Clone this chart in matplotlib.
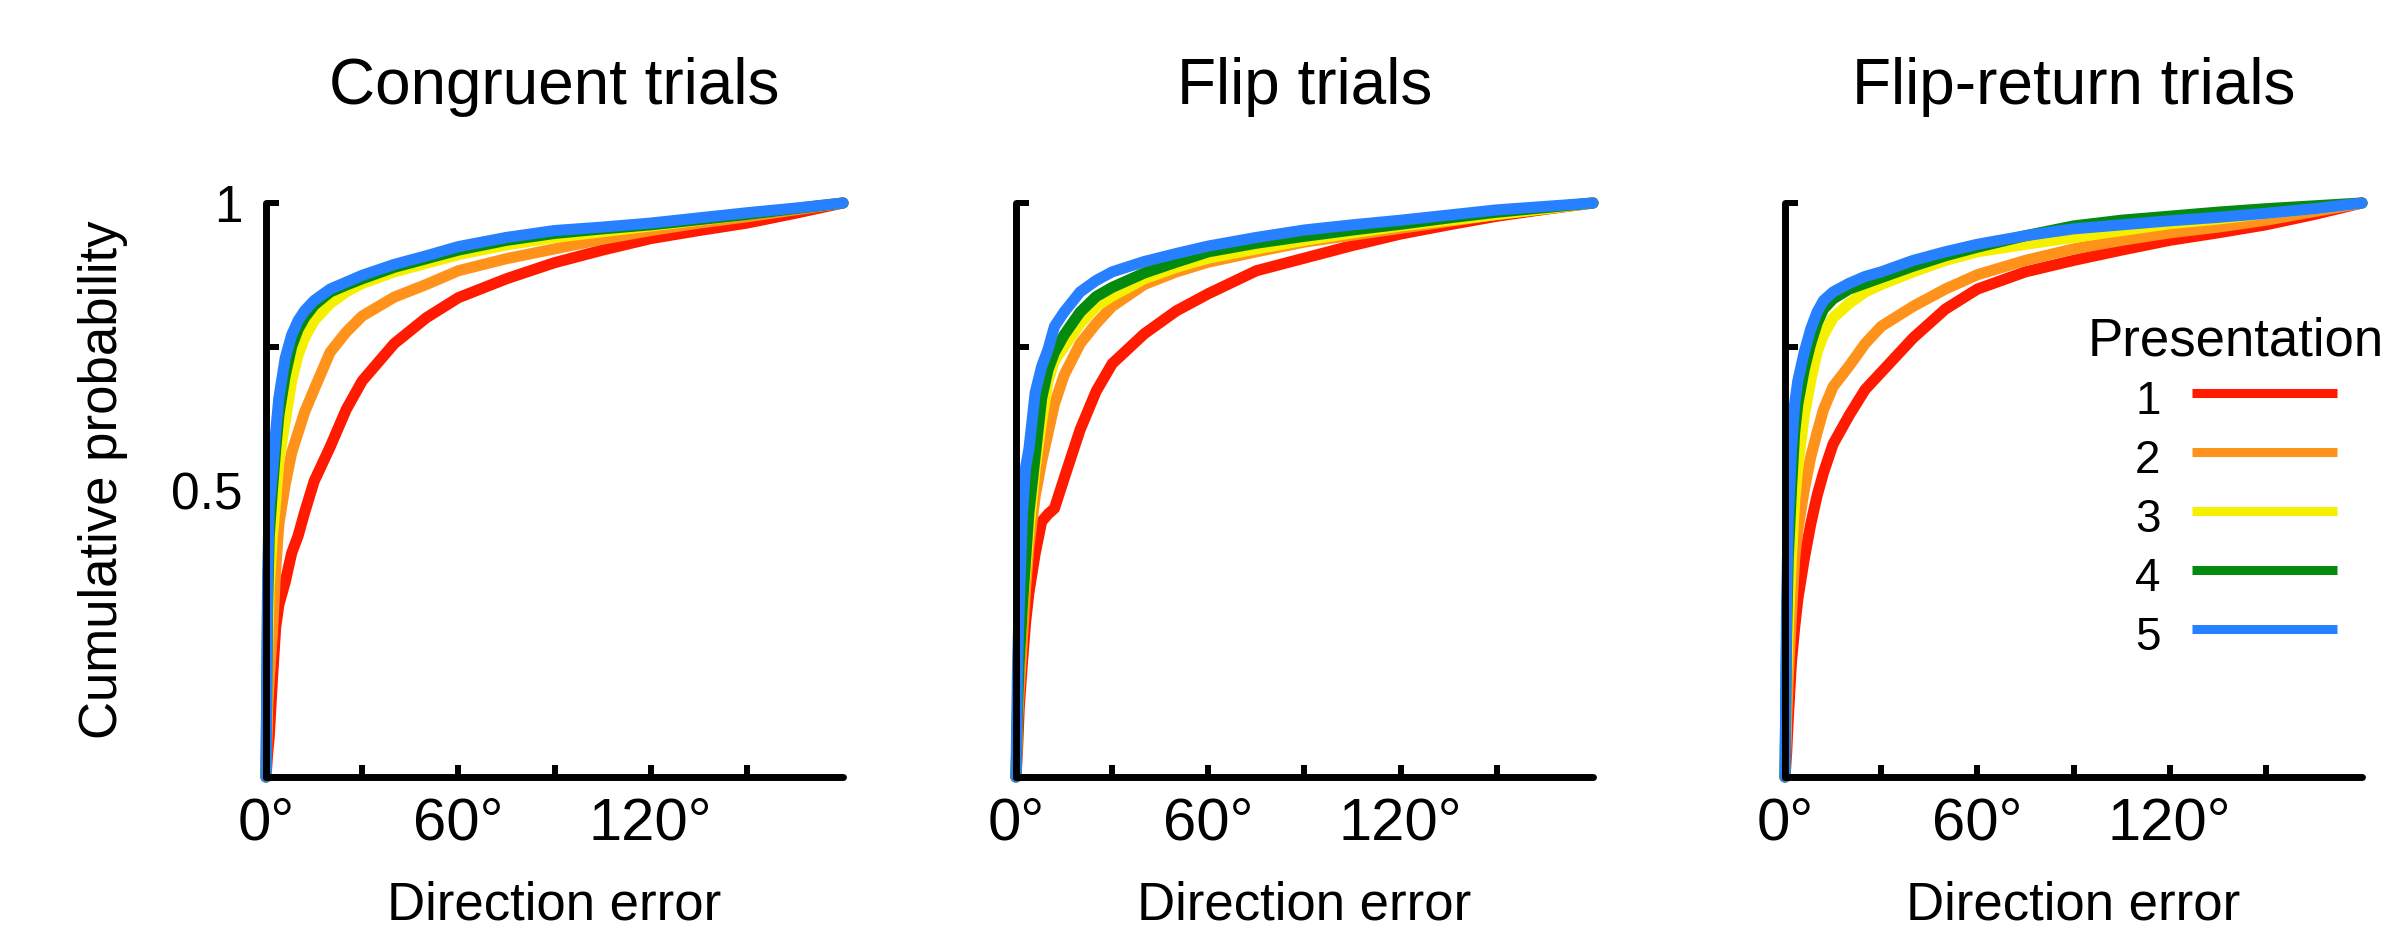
import matplotlib
matplotlib.use("Agg")
import matplotlib.pyplot as plt
import matplotlib.transforms as mtransforms
from matplotlib.lines import Line2D

plt.rcParams['font.family'] = ['Liberation Sans', 'DejaVu Sans']

# direction error grid (degrees) shared by all curves
x_deg = [0, 0.5, 1, 2, 3, 4, 6, 8, 10, 12, 15, 20, 25, 30, 40, 50, 60, 75, 90, 105, 120, 135, 150, 165, 180]

presentations = ['1', '2', '3', '4', '5']
colors = ['#ff1a00', '#ff921a', '#f5f000', '#058a10', '#2680ff']
titles = ['Congruent trials', 'Flip trials', 'Flip-return trials']

# cumulative probability
congruent_1 = [0, 0.04, 0.07, 0.17, 0.26, 0.30, 0.34, 0.39, 0.42, 0.46, 0.515, 0.575, 0.64, 0.69, 0.755, 0.80, 0.835, 0.868, 0.896, 0.918, 0.938, 0.952, 0.965, 0.982, 1.0]
congruent_2 = [0, 0.12, 0.17, 0.25, 0.36, 0.44, 0.51, 0.565, 0.60, 0.635, 0.675, 0.74, 0.775, 0.803, 0.836, 0.858, 0.882, 0.903, 0.92, 0.937, 0.952, 0.965, 0.976, 0.988, 1.0]
congruent_3 = [0, 0.22, 0.33, 0.42, 0.48, 0.55, 0.62, 0.69, 0.735, 0.765, 0.795, 0.825, 0.845, 0.86, 0.88, 0.895, 0.91, 0.927, 0.94, 0.95, 0.96, 0.97, 0.98, 0.99, 1.0]
congruent_4 = [0, 0.30, 0.42, 0.50, 0.57, 0.63, 0.70, 0.75, 0.78, 0.80, 0.822, 0.845, 0.857, 0.868, 0.888, 0.903, 0.918, 0.935, 0.947, 0.955, 0.962, 0.971, 0.98, 0.99, 1.0]
congruent_5 = [0, 0.35, 0.47, 0.53, 0.60, 0.66, 0.73, 0.77, 0.795, 0.812, 0.83, 0.85, 0.862, 0.874, 0.893, 0.908, 0.924, 0.94, 0.952, 0.958, 0.965, 0.974, 0.983, 0.991, 1.0]

flip_1 = [0, 0.05, 0.12, 0.20, 0.27, 0.32, 0.39, 0.445, 0.458, 0.468, 0.52, 0.605, 0.672, 0.72, 0.772, 0.812, 0.842, 0.882, 0.904, 0.926, 0.946, 0.962, 0.977, 0.989, 1.0]
flip_2 = [0, 0.10, 0.15, 0.24, 0.33, 0.40, 0.49, 0.55, 0.60, 0.65, 0.70, 0.755, 0.79, 0.82, 0.858, 0.88, 0.897, 0.915, 0.932, 0.944, 0.956, 0.968, 0.98, 0.99, 1.0]
flip_3 = [0, 0.12, 0.20, 0.30, 0.36, 0.43, 0.54, 0.62, 0.69, 0.725, 0.75, 0.79, 0.82, 0.838, 0.868, 0.888, 0.904, 0.92, 0.935, 0.948, 0.96, 0.97, 0.98, 0.99, 1.0]
flip_4 = [0, 0.12, 0.20, 0.30, 0.38, 0.46, 0.56, 0.66, 0.71, 0.74, 0.77, 0.81, 0.837, 0.853, 0.878, 0.897, 0.915, 0.93, 0.942, 0.953, 0.963, 0.974, 0.984, 0.992, 1.0]
flip_5 = [0, 0.20, 0.30, 0.46, 0.54, 0.57, 0.67, 0.715, 0.745, 0.785, 0.81, 0.845, 0.865, 0.88, 0.898, 0.912, 0.925, 0.94, 0.953, 0.962, 0.97, 0.979, 0.988, 0.994, 1.0]

flipret_1 = [0, 0.04, 0.10, 0.20, 0.26, 0.31, 0.38, 0.44, 0.49, 0.53, 0.58, 0.63, 0.675, 0.705, 0.765, 0.815, 0.85, 0.88, 0.90, 0.918, 0.935, 0.948, 0.962, 0.98, 1.0]
flipret_2 = [0, 0.10, 0.17, 0.28, 0.38, 0.43, 0.50, 0.557, 0.60, 0.64, 0.68, 0.716, 0.755, 0.785, 0.82, 0.85, 0.875, 0.90, 0.92, 0.935, 0.948, 0.958, 0.97, 0.985, 1.0]
flipret_3 = [0, 0.17, 0.26, 0.38, 0.48, 0.54, 0.63, 0.69, 0.74, 0.77, 0.80, 0.825, 0.845, 0.858, 0.88, 0.90, 0.915, 0.928, 0.94, 0.952, 0.964, 0.972, 0.982, 0.99, 1.0]
flipret_4 = [0, 0.25, 0.38, 0.50, 0.60, 0.65, 0.71, 0.755, 0.79, 0.815, 0.833, 0.85, 0.86, 0.87, 0.89, 0.908, 0.923, 0.943, 0.96, 0.97, 0.977, 0.984, 0.99, 0.995, 1.0]
flipret_5 = [0, 0.30, 0.45, 0.57, 0.65, 0.69, 0.74, 0.78, 0.81, 0.83, 0.845, 0.86, 0.872, 0.88, 0.90, 0.915, 0.928, 0.943, 0.955, 0.962, 0.969, 0.975, 0.982, 0.99, 1.0]

panels = [
    [congruent_1, congruent_2, congruent_3, congruent_4, congruent_5],
    [flip_1, flip_2, flip_3, flip_4, flip_5],
    [flipret_1, flipret_2, flipret_3, flipret_4, flipret_5],
]

W, H = 2388, 934
fig = plt.figure(figsize=(W / 100, H / 100), dpi=100)

# axes boxes in pixels
lefts = [266, 1016, 1785]
ax_w = 577
top, bottom = 203, 777

# nudge x tick labels so the digits sit on the tick, degree sign hanging right
nudge = mtransforms.ScaledTranslation(9 / 100, 0, fig.dpi_scale_trans)

axes = []
for i, (title, curves) in enumerate(zip(titles, panels)):
    ax = fig.add_axes([lefts[i] / W, (H - bottom) / H, ax_w / W, (bottom - top) / H])
    axes.append(ax)
    for c, y in zip(colors, curves):
        ax.plot(x_deg, y, color=c, lw=8, solid_capstyle='round',
                solid_joinstyle='round', clip_on=False)
    ax.set_xlim(0, 180)
    ax.set_ylim(0, 1)
    for s in ['top', 'right']:
        ax.spines[s].set_visible(False)
    for s in ['left', 'bottom']:
        ax.spines[s].set_linewidth(5)
        ax.spines[s].set_capstyle('round')
        ax.spines[s].set_zorder(3)
    ax.set_xticks([0, 30, 60, 90, 120, 150])
    ax.set_xticklabels(['0°', '', '60°', '', '120°', ''], fontsize=43)
    for lab in ax.get_xticklabels():
        lab.set_transform(lab.get_transform() + nudge)
    ax.set_yticks([0, 0.25, 0.5, 0.75, 1])
    if i == 0:
        ax.set_yticklabels(['', '', '0.5', '', '1'], fontsize=37)
    else:
        ax.set_yticklabels([])
    ax.tick_params(direction='in', length=9, width=4.3, pad=14)
    ax.tick_params(axis='y', pad=17)
    ax.set_xlabel('Direction error', fontsize=38, va='center')
    ax.xaxis.set_label_coords(0.5, -(906 - bottom) / (bottom - top))
    ax.text(0.5, 1 + (top - 104) / (bottom - top), title, transform=ax.transAxes,
            ha='center', va='baseline', fontsize=46)

axes[0].set_ylabel('Cumulative probability', fontsize=38, va='center')
axes[0].yaxis.set_label_coords((103 - 266) / ax_w, 0.517)

handles = [Line2D([], [], color=c, lw=6.5, solid_capstyle='butt') for c in colors]
leg = axes[2].legend(handles, presentations, title='Presentation', markerfirst=False,
                     frameon=False, fontsize=33, title_fontsize=38,
                     handlelength=3.17, handleheight=1.45, handletextpad=0.68,
                     labelspacing=0.1, borderpad=0, loc='upper center',
                     bbox_to_anchor=(2236 / W, (H - 294) / H),
                     bbox_transform=fig.transFigure)

fig.savefig('out.png', dpi=100)
